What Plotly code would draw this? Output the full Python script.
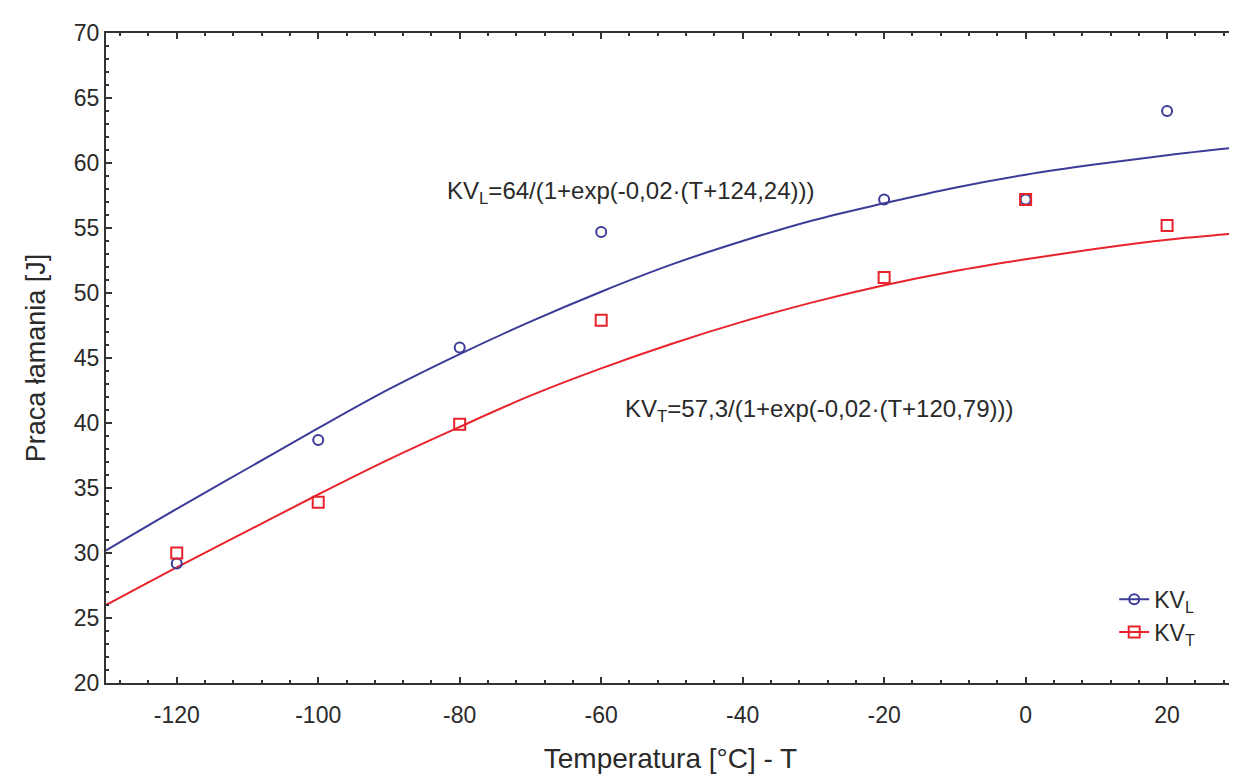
import plotly.graph_objects as go

# Measured points
T_pts = [-120, -100, -80, -60, -20, 0, 20]
KVL_pts = [29.2, 38.7, 45.8, 54.7, 57.2, 57.2, 64.0]
KVT_pts = [30.0, 33.9, 39.9, 47.9, 51.2, 57.2, 55.2]

# Fitted curves (every 10 degrees)
T_fit = [-130, -120, -110, -100, -90, -80, -70, -60, -50, -40, -30, -20, -10, 0, 10, 20, 30]
KVL_fit = [30.2, 33.4, 36.5, 39.6, 42.6, 45.3, 47.8, 50.1, 52.2, 54.0, 55.6, 56.9, 58.1, 59.1, 59.9, 60.6, 61.2]
KVT_fit = [26.0, 28.9, 31.7, 34.5, 37.2, 39.7, 42.1, 44.2, 46.1, 47.8, 49.3, 50.6, 51.7, 52.6, 53.4, 54.1, 54.6]

x_ticks = [-120, -100, -80, -60, -40, -20, 0, 20]
x_ticklabels = ["-120", "-100", "-80", "-60", "-40", "-20", "0", "20"]
y_ticks = [20, 25, 30, 35, 40, 45, 50, 55, 60, 65, 70]

BLUE = "#3c3c98"
RED = "#e8232b"
FONT = "Liberation Sans, Arial, sans-serif"
TXT = "#2a2a2a"

fig = go.Figure()
fig.add_trace(go.Scatter(x=T_fit, y=KVL_fit, mode="lines", line=dict(color=BLUE, width=2, shape="spline"),
                         showlegend=False, hoverinfo="skip"))
fig.add_trace(go.Scatter(x=T_fit, y=KVT_fit, mode="lines", line=dict(color=RED, width=2, shape="spline"),
                         showlegend=False, hoverinfo="skip"))
fig.add_trace(go.Scatter(x=T_pts, y=KVL_pts, mode="markers",
                         marker=dict(symbol="circle-open", size=10, color=BLUE, line=dict(width=2)),
                         showlegend=False))
fig.add_trace(go.Scatter(x=T_pts, y=KVT_pts, mode="markers",
                         marker=dict(symbol="square-open", size=11, color=RED, line=dict(width=2)),
                         showlegend=False))
# legend entries
fig.add_trace(go.Scatter(x=[None], y=[None], mode="lines+markers", name="KV<sub>L</sub>",
                         line=dict(color=BLUE, width=2),
                         marker=dict(symbol="circle-open", size=10, color=BLUE, line=dict(width=2))))
fig.add_trace(go.Scatter(x=[None], y=[None], mode="lines+markers", name="KV<sub>T</sub>",
                         line=dict(color=RED, width=2),
                         marker=dict(symbol="square-open", size=11, color=RED, line=dict(width=2))))

fig.add_annotation(x=-55.8, y=57.7, xref="x", yref="y", showarrow=False,
                   text="KV<sub>L</sub>=64/(1+exp(-0,02·(T+124,24)))",
                   font=dict(family=FONT, size=24, color=TXT))
fig.add_annotation(x=-29.2, y=41.0, xref="x", yref="y", showarrow=False,
                   text="KV<sub>T</sub>=57,3/(1+exp(-0,02·(T+120,79)))",
                   font=dict(family=FONT, size=24, color=TXT))

axis_common = dict(
    showline=True, linecolor="#333333", linewidth=2, mirror="allticks",
    ticks="inside", ticklen=6, tickwidth=1.5, tickcolor="#333333",
    showgrid=False, zeroline=False,
    tickfont=dict(family=FONT, size=23, color=TXT),
)

fig.update_xaxes(range=[-130, 29.6], tickvals=x_ticks, ticktext=x_ticklabels, ticklabelstandoff=10,
                 minor=dict(dtick=4, tick0=0, ticks="inside", ticklen=3, tickcolor="#333333"),
                 title=dict(text="Temperatura [°C] - T", font=dict(family=FONT, size=28, color=TXT), standoff=22),
                 **axis_common)
fig.update_yaxes(range=[20, 70], tickvals=y_ticks,
                 minor=dict(dtick=1, tick0=0, ticks="inside", ticklen=3, tickcolor="#333333"),
                 title=dict(text="Praca łamania [J]", font=dict(family=FONT, size=27, color=TXT), standoff=20),
                 **axis_common)

fig.update_layout(
    width=1237, height=779,
    margin=dict(l=98, r=10, t=25, b=104, autoexpand=False),
    paper_bgcolor="white", plot_bgcolor="white",
    legend=dict(x=0.893, y=0.045, xanchor="left", yanchor="bottom",
                font=dict(family=FONT, size=23, color=TXT),
                bgcolor="rgba(0,0,0,0)", tracegroupgap=0, itemwidth=30),
)

fig.write_html("out.html")
